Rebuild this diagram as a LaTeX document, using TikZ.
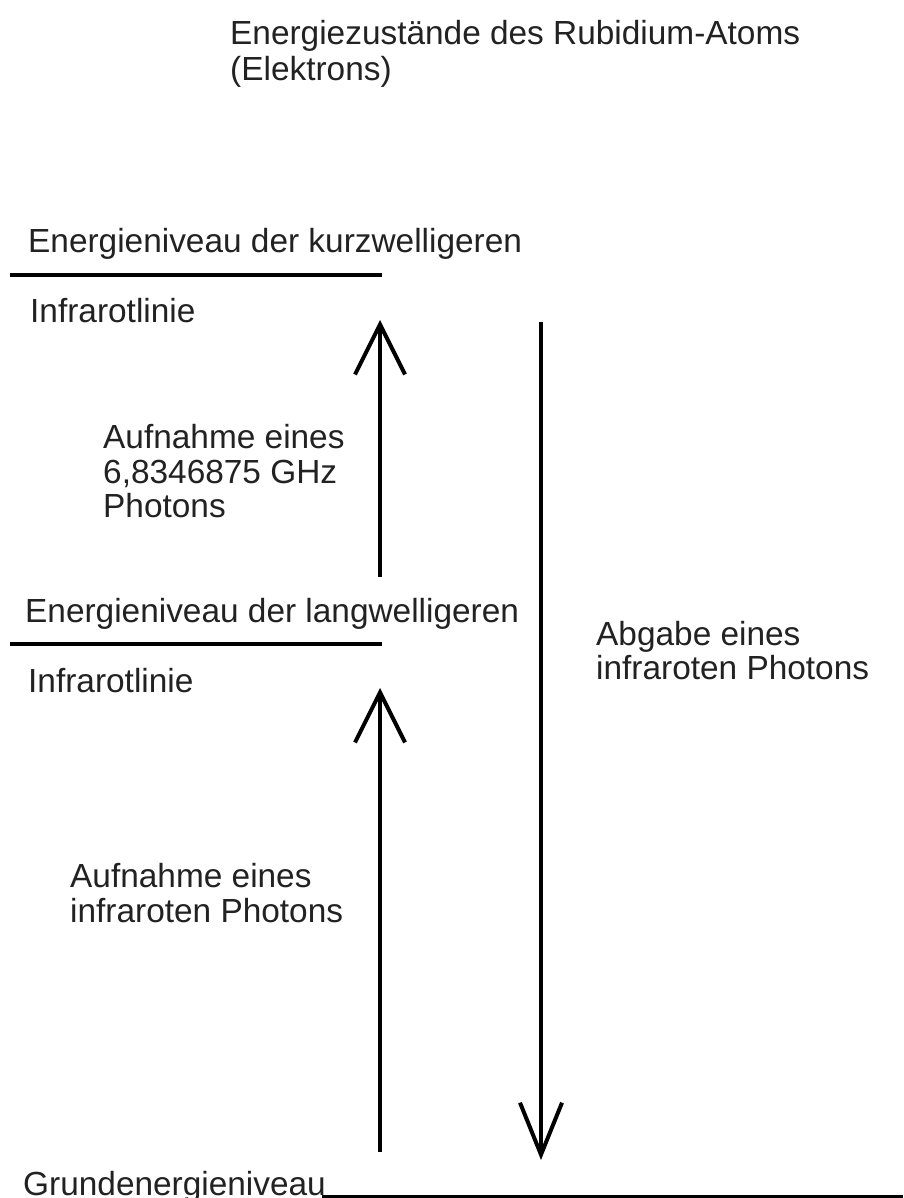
\documentclass[tikz,border=0pt]{standalone}
\usepackage{fontspec}
\setmainfont{Liberation Sans}
\usetikzlibrary{arrows.meta}
\definecolor{txt}{HTML}{222222}
\begin{document}
\begin{tikzpicture}[x=1pt,y=-1pt,
  lbl/.style={anchor=base west,inner sep=0pt,text=txt,font=\fontsize{33.4}{38}\selectfont},
  level/.style={line width=4pt,black},
  uparr/.style={line width=4pt,black,-{Straight Barb[length=50pt,width=50pt,line width=4pt]}},
  dnarr/.style={line width=4pt,black,-{Straight Barb[length=52pt,width=42pt,line width=4pt]}}]
\useasboundingbox (0,0) rectangle (903,1198);
\fill[white] (0,0) rectangle (903,1198);
% title
\node[lbl] (t1) at (230,45) {Energiezustände des Rubidium-Atoms};
\node[lbl] (t2) at (230,81) {(Elektrons)};
% upper level
\node[lbl] (k1) at (28,252) {Energieniveau der kurzwelligeren};
\coordinate (L1a) at (10,275);
\coordinate (L1b) at (382,275);
\draw[level] (L1a) -- (L1b);
\node[lbl] (k2) at (30,322) {Infrarotlinie};
% middle level
\node[lbl] (m1) at (25,622) {Energieniveau der langwelligeren};
\coordinate (L2a) at (10,644);
\coordinate (L2b) at (382,644);
\draw[level] (L2a) -- (L2b);
\node[lbl] (m2) at (28,692) {Infrarotlinie};
% ground level
\node[lbl] (g1) at (23,1195) {Grundenergieniveau};
\coordinate (L3a) at (322,1197);
\coordinate (L3b) at (903,1197);
\draw[level] (L3a) -- (L3b);
% arrows
\coordinate (A1t) at (380,577);
\coordinate (A1h) at (380,320);
\draw[uparr] (A1t) -- (A1h);
\coordinate (A2t) at (380,1152);
\coordinate (A2h) at (380,688);
\draw[uparr] (A2t) -- (A2h);
\coordinate (A3t) at (541,322);
\coordinate (A3h) at (541,1160);
\draw[dnarr] (A3t) -- (A3h);
% labels
\node[lbl] (a1) at (103,448) {Aufnahme eines};
\node[lbl] (a2) at (103,483) {6,8346875 GHz};
\node[lbl] (a3) at (103,517) {Photons};
\node[lbl] (b1) at (596,645) {Abgabe eines};
\node[lbl] (b2) at (596,679) {infraroten Photons};
\node[lbl] (c1) at (70,887) {Aufnahme eines};
\node[lbl] (c2) at (70,922) {infraroten Photons};
\end{tikzpicture}
\end{document}
